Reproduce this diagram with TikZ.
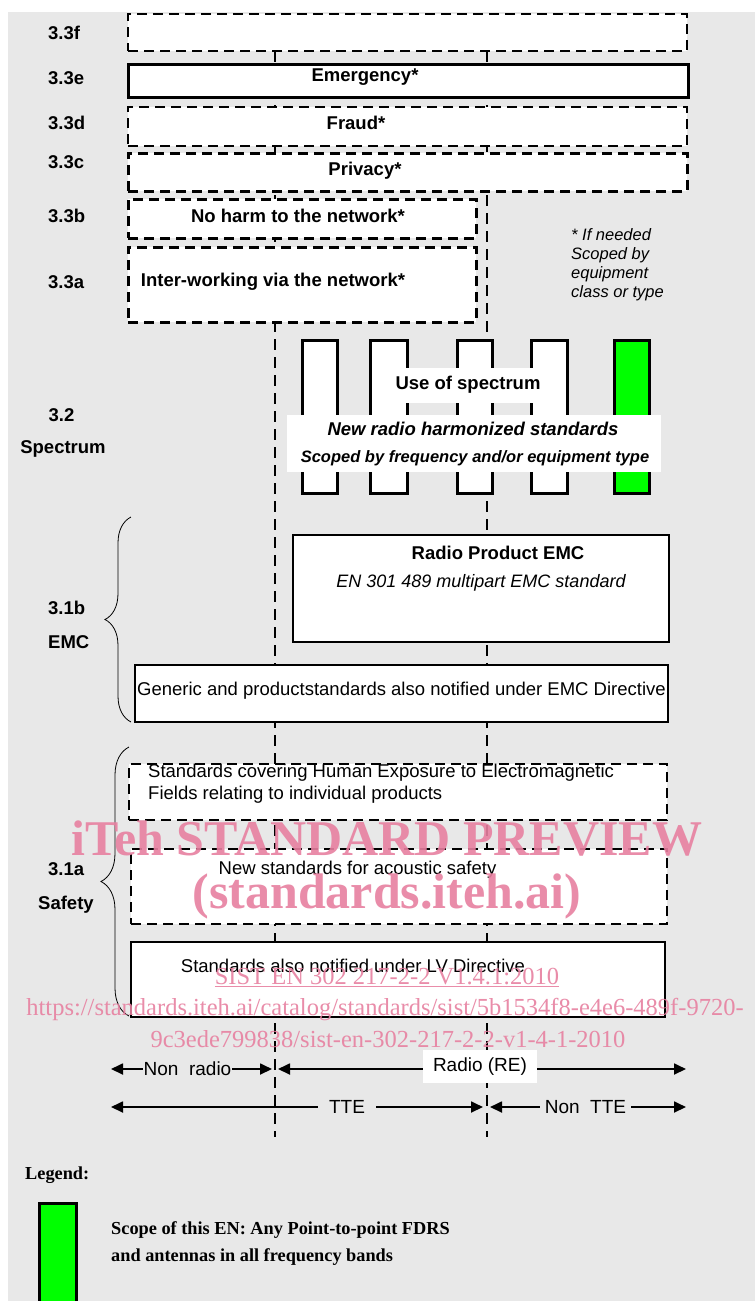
\documentclass[tikz,border=0pt]{standalone}
\usepackage{fontspec}
\setmainfont{Liberation Sans}
\newfontfamily\tmsfont{Liberation Serif}
\usetikzlibrary{arrows.meta,decorations.pathreplacing}
\definecolor{bggray}{RGB}{232,232,232}
\definecolor{scopegreen}{RGB}{0,255,0}
\definecolor{wmpink}{RGB}{231,128,160}
\begin{document}
\begin{tikzpicture}[x=1pt,y=-1pt,
  box/.style={draw, line width=2.5pt, fill=white, inner sep=0pt},
  dbox/.style={box, dash pattern=on 10pt off 6pt},
  sbar/.style={draw, line width=3pt, fill=white, inner sep=0pt, minimum height=153pt},
  vline/.style={line width=2.5pt, dash pattern=on 11pt off 7pt},
  lbl/.style={font=\fontsize{18.5}{21}\selectfont\bfseries, inner sep=0pt},
  txt/.style={font=\fontsize{18.5}{21}\selectfont, inner sep=0pt},
  note/.style={font=\fontsize{16.5}{19}\selectfont\itshape, inner sep=0pt, anchor=mid west},
  arr/.style={line width=1.8pt, {Triangle[length=12pt,width=11pt]}-{Triangle[length=12pt,width=11pt]}},
  arrlbl/.style={font=\fontsize{19}{21}\selectfont, fill=bggray, inner xsep=4pt, inner ysep=3pt},
  serifb/.style={font=\tmsfont\fontsize{18.3}{21}\selectfont\bfseries, inner sep=0pt, anchor=mid west},
  wm/.style={text=wmpink, text opacity=0.9, font=\tmsfont\fontsize{50}{56}\selectfont\bfseries, inner sep=0pt, anchor=base},
  wms/.style={text=wmpink, text opacity=0.9, font=\tmsfont\fontsize{24.5}{28}\selectfont, inner sep=0pt, anchor=base}
]
\useasboundingbox (0,0) rectangle (755,1301);
\fill[bggray] (8,12) rectangle (755,1301);

% vertical dashed separators
\coordinate (La) at (275,51);
\coordinate (Lb) at (275,1137);
\coordinate (Ra) at (487,51);
\coordinate (Rb) at (487,1137);
\draw[vline] (La) -- (Lb);
\draw[vline] (Ra) -- (Rb);

% 3.3 boxes
\node[dbox, minimum width=559pt, minimum height=37pt] (f) at (407.5,32.5) {};
\node[box, line width=3pt, minimum width=560pt, minimum height=33pt] (e) at (408,80.5) {};
\node[dbox, minimum width=559pt, minimum height=39pt] (d) at (407.5,126.5) {};
\node[dbox, line width=3pt, minimum width=559pt, minimum height=38pt] (c) at (407.5,172) {};
\node[dbox, line width=3pt, minimum width=348pt, minimum height=39pt] (b) at (302,218.5) {};
\node[dbox, line width=3pt, minimum width=348pt, minimum height=75pt] (a) at (302,284.5) {};

\node[lbl, anchor=mid] (et) at (365,79) {Emergency*};
\node[lbl, anchor=mid] (dt) at (356,127) {Fraud*};
\node[lbl, anchor=mid] (ct) at (365,173) {Privacy*};
\node[lbl, anchor=mid] (bt) at (298,220) {No harm to the network*};
\node[lbl, anchor=mid] (at) at (273,284) {Inter-working via the network*};

\node[note] (n1) at (571,238) {* If needed};
\node[note] (n2) at (571,257) {Scoped by};
\node[note] (n3) at (571,276) {equipment};
\node[note] (n4) at (571,295) {class or type};

% left labels
\node[lbl, anchor=mid west] (l1) at (48,37) {3.3f};
\node[lbl, anchor=mid west] (l2) at (48,82) {3.3e};
\node[lbl, anchor=mid west] (l3) at (48,127) {3.3d};
\node[lbl, anchor=mid west] (l4) at (48,166) {3.3c};
\node[lbl, anchor=mid west] (l5) at (48,220) {3.3b};
\node[lbl, anchor=mid west] (l6) at (48,286) {3.3a};
\node[lbl, anchor=mid] (l7) at (61.5,419) {3.2};
\node[lbl, anchor=mid] (l8) at (63,451) {Spectrum};
\node[lbl, anchor=mid west] (l9) at (48,612) {3.1b};
\node[lbl, anchor=mid west] (l10) at (48,646) {EMC};
\node[lbl, anchor=mid west] (l11) at (48,873) {3.1a};
\node[lbl, anchor=mid west] (l12) at (38,907) {Safety};

% spectrum bars
\node[sbar, minimum width=35pt] (s1) at (319.5,416.5) {};
\node[sbar, minimum width=37pt] (s2) at (388.5,416.5) {};
\node[sbar, minimum width=35pt] (s3) at (474.5,416.5) {};
\node[sbar, minimum width=36pt] (s4) at (549,416.5) {};
\node[sbar, fill=scopegreen, minimum width=35pt] (s5) at (631.5,416.5) {};
\node[fill=white, inner sep=0pt, minimum width=193pt, minimum height=35pt] (ub) at (468.5,385.5) {};
\node[fill=white, inner sep=0pt, minimum width=374pt, minimum height=57pt] (nb) at (474,443.5) {};
\node[lbl, anchor=mid] (ut) at (468,387) {Use of spectrum};
\node[lbl, font=\fontsize{18.5}{21}\selectfont\bfseries\itshape, anchor=mid] (nt1) at (473,433) {New radio harmonized standards};
\node[lbl, font=\fontsize{16.5}{19}\selectfont\bfseries\itshape, anchor=mid] (nt2) at (475,460) {Scoped by frequency and/or equipment type};

% EMC
\node[box, minimum width=376pt, minimum height=107pt] (emc) at (481,588.5) {};
\node[lbl, anchor=mid] (emct1) at (498,557) {Radio Product EMC};
\node[txt, font=\fontsize{18}{21}\selectfont\itshape, anchor=mid] (emct2) at (481,585) {EN 301 489 multipart EMC standard};
\node[box, minimum width=533pt, minimum height=57pt] (gen) at (401.5,693.5) {};
\node[txt, anchor=mid] (gent) at (401.5,693) {Generic and productstandards also notified under EMC Directive};
\draw[line width=0.8pt, decorate, decoration={brace, amplitude=26pt}] (131,722) -- (131,517);

% Safety
\node[dbox, minimum width=538pt, minimum height=56pt] (hum) at (398,792) {};
\node[txt, anchor=mid west] (hum1) at (148,775) {Standards covering Human Exposure to Electromagnetic};
\node[txt, anchor=mid west] (hum2) at (148,797) {Fields relating to individual products};
\node[dbox, minimum width=536pt, minimum height=75pt] (ac) at (399,886.5) {};
\node[txt, anchor=mid] (act) at (357.5,872) {New standards for acoustic safety};
\node[box, minimum width=534pt, minimum height=75pt] (lv) at (398,979.5) {};
\node[txt, anchor=mid] (lvt) at (353,970) {Standards also notified under LV Directive};
\draw[line width=0.8pt, decorate, decoration={brace, amplitude=28pt}] (129,1016) -- (129,747);

% scope arrows
\coordinate (nr1) at (111,1069);
\coordinate (nr2) at (272,1069);
\coordinate (re1) at (278,1069);
\coordinate (re2) at (686,1069);
\coordinate (tt1) at (111,1107);
\coordinate (tt2) at (483,1107);
\coordinate (nt1a) at (490,1107);
\coordinate (nt2a) at (686,1107);
\draw[arr] (nr1) -- (nr2);
\draw[arr] (re1) -- (re2);
\draw[arr] (tt1) -- (tt2);
\draw[arr] (nt1a) -- (nt2a);
\node[arrlbl, inner xsep=1pt] (nrt) at (187.5,1069) {Non\ \ radio};
\node[arrlbl, fill=white, minimum width=114pt, minimum height=33pt, inner sep=0pt] (ret) at (480,1066.5) {Radio (RE)};
\node[arrlbl, inner xsep=11pt] (ttt) at (347,1107) {TTE};
\node[arrlbl, inner xsep=5pt] (ntt) at (585.5,1107) {Non\ \ TTE};

% legend
\node[serifb] (leg) at (25,1177) {Legend:};
\node[draw, line width=3pt, fill=scopegreen, inner sep=0pt, minimum width=37pt, minimum height=99pt] (lg) at (57.5,1252.5) {};
\node[serifb] (lt1) at (111,1232) {Scope of this EN: Any Point-to-point FDRS};
\node[serifb] (lt2) at (111,1259) {and antennas in all frequency bands};

% watermark
\node[wm] (wm1) at (387,855) {iTeh STANDARD PREVIEW};
\node[wm] (wm2) at (387,908) {(standards.iteh.ai)};
\node[wms] (wm3) at (387,984) {\underline{SIST EN 302 217-2-2 V1.4.1:2010}};
\node[wms] (wm4) at (385,1015) {https://standards.iteh.ai/catalog/standards/sist/5b1534f8-e4e6-489f-9720-};
\node[wms] (wm5) at (388,1047) {9c3ede799838/sist-en-302-217-2-2-v1-4-1-2010};
\end{tikzpicture}
\end{document}
